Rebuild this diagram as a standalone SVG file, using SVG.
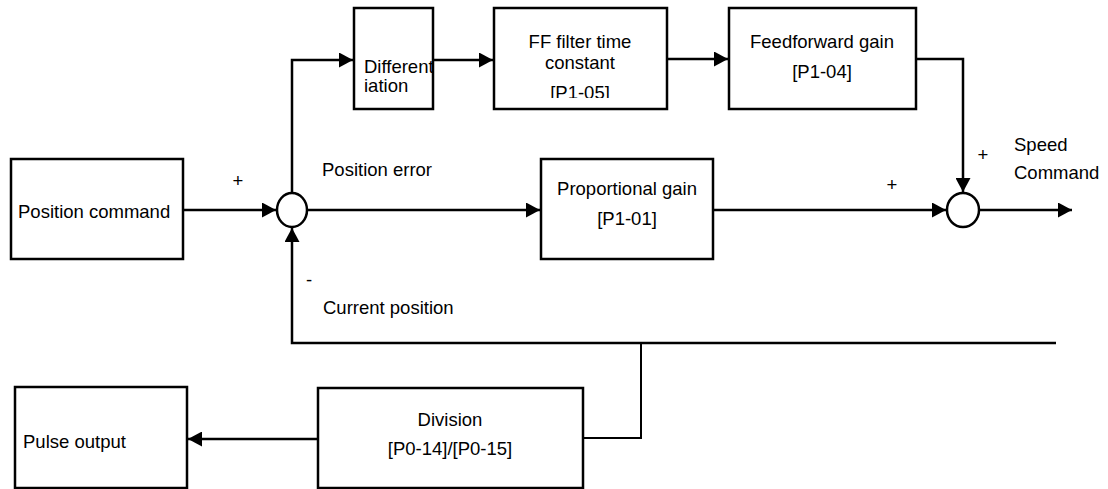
<svg xmlns="http://www.w3.org/2000/svg" width="1108" height="489" viewBox="0 0 1108 489">
<style>
  .box { fill: #fff; stroke: #000; stroke-width: 2.5; }
  .sum { fill: #fff; stroke: #000; stroke-width: 2.5; }
  .t { font-family: "Liberation Sans", Arial, sans-serif; font-size: 18.5px; fill: #000; }
  .c { text-anchor: middle; }
  .ln { fill: none; stroke: #000; stroke-width: 2.5; }
  .ln2 { fill: none; stroke: #000; stroke-width: 2; }
</style>
<defs>
  <marker id="arr" markerUnits="userSpaceOnUse" markerWidth="15" markerHeight="15" viewBox="0 0 15 15" refX="14" refY="7.5" orient="auto">
    <path d="M0,0 L14,7.5 L0,15 Z" fill="#000"/>
  </marker>
  <clipPath id="ffclip"><rect x="494" y="8" width="173" height="90"/></clipPath>
</defs>

<g id="connectors">
  <path class="ln" d="M183,210 L276,210" marker-end="url(#arr)"/>
  <path class="ln" d="M292,193 L292,60 L353,60" marker-end="url(#arr)"/>
  <path class="ln" d="M433,60 L493,60" marker-end="url(#arr)"/>
  <path class="ln" d="M667,59 L728,59" marker-end="url(#arr)"/>
  <path class="ln" d="M916,59 L963,59 L963,192" marker-end="url(#arr)"/>
  <path class="ln" d="M307,210 L540,210" marker-end="url(#arr)"/>
  <path class="ln" d="M713,210 L946,210" marker-end="url(#arr)"/>
  <path class="ln" d="M979,210 L1072,210" marker-end="url(#arr)"/>
  <path class="ln" d="M1056,343 L292,343 L292,228" marker-end="url(#arr)"/>
  <path class="ln2" d="M641,343 L641,438 L583,438"/>
  <path class="ln" d="M318,439 L188,439" marker-end="url(#arr)"/>
</g>

<g id="position-command">
  <rect class="box" x="11" y="159" width="172" height="100"/>
  <text class="t" x="18" y="218">Position command</text>
</g>

<g id="sum1">
  <ellipse class="sum" cx="292" cy="210" rx="15" ry="17"/>
</g>

<g id="differentiation">
  <rect class="box" x="354" y="8" width="79" height="101"/>
  <text class="t" x="364" y="73">Different</text>
  <text class="t" x="364" y="92">iation</text>
</g>

<g id="ff-filter">
  <rect class="box" x="494" y="8" width="173" height="101"/>
  <text class="t c" x="580" y="48">FF filter time</text>
  <text class="t c" x="580" y="69">constant</text>
  <text class="t c" x="580" y="99" clip-path="url(#ffclip)">[P1-05]</text>
</g>

<g id="feedforward-gain">
  <rect class="box" x="729" y="8" width="187" height="101"/>
  <text class="t c" x="822" y="48">Feedforward gain</text>
  <text class="t c" x="822" y="78">[P1-04]</text>
</g>

<g id="proportional-gain">
  <rect class="box" x="541" y="159" width="172" height="100"/>
  <text class="t c" x="627" y="195">Proportional gain</text>
  <text class="t c" x="627" y="225">[P1-01]</text>
</g>

<g id="sum2">
  <ellipse class="sum" cx="963" cy="210" rx="16" ry="17"/>
</g>

<g id="division">
  <rect class="box" x="318" y="388" width="265" height="100"/>
  <text class="t c" x="450" y="426">Division</text>
  <text class="t c" x="450" y="455">[P0-14]/[P0-15]</text>
</g>

<g id="pulse-output">
  <rect class="box" x="15" y="387" width="172" height="101"/>
  <text class="t" x="23" y="448">Pulse output</text>
</g>

<g id="labels">
  <text class="t c" x="238" y="187">+</text>
  <text class="t" x="322" y="176">Position error</text>
  <text class="t" x="306" y="286">-</text>
  <text class="t" x="323" y="314">Current position</text>
  <text class="t c" x="892" y="191">+</text>
  <text class="t c" x="983" y="161">+</text>
  <text class="t" x="1014" y="151">Speed</text>
  <text class="t" x="1014" y="179">Command</text>
</g>
</svg>
